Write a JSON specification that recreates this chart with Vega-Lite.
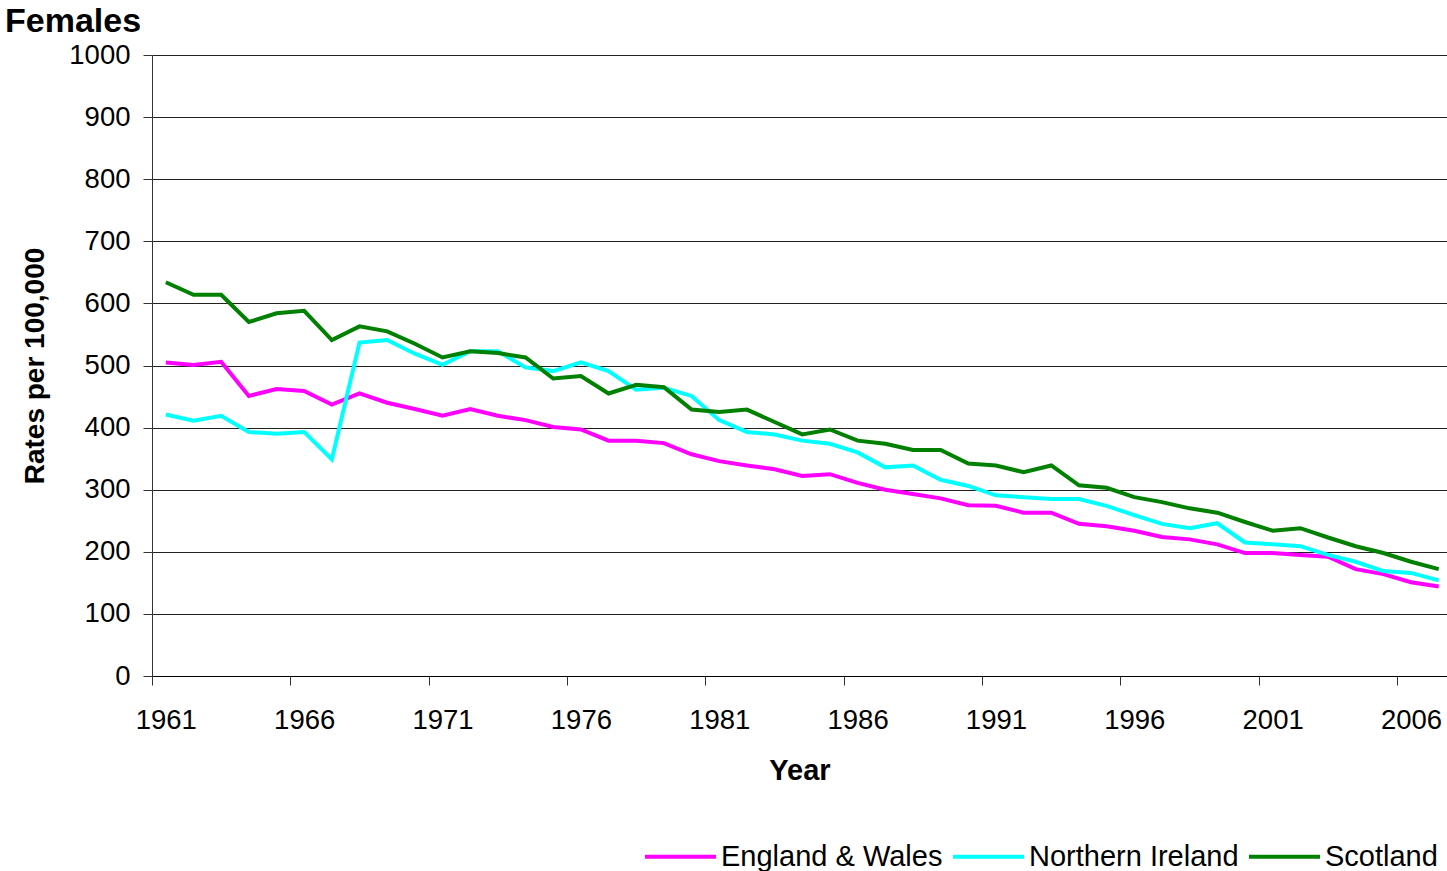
{
  "$schema": "https://vega.github.io/schema/vega-lite/v6.json",
  "width": 1295,
  "height": 621,
  "autosize": {"type": "none"},
  "padding": {"left": 152, "top": 55, "right": 0, "bottom": 195},
  "background": "white",
  "config": {"view": {"stroke": null}, "font": "Liberation Sans"},
  "title": {"text": "Females", "anchor": "start", "frame": "group", "fontSize": 34, "fontWeight": "bold", "font": "Liberation Sans", "color": "black", "dx": -147, "offset": -25, "baseline": "alphabetic"},
  "datasets": {
    "rates": [
      {"year":1961,"country":"England & Wales","rate":505},{"year":1962,"country":"England & Wales","rate":501},{"year":1963,"country":"England & Wales","rate":506},{"year":1964,"country":"England & Wales","rate":451},{"year":1965,"country":"England & Wales","rate":462},{"year":1966,"country":"England & Wales","rate":459},{"year":1967,"country":"England & Wales","rate":437},{"year":1968,"country":"England & Wales","rate":455},{"year":1969,"country":"England & Wales","rate":440},{"year":1970,"country":"England & Wales","rate":430},{"year":1971,"country":"England & Wales","rate":419},{"year":1972,"country":"England & Wales","rate":430},{"year":1973,"country":"England & Wales","rate":419},{"year":1974,"country":"England & Wales","rate":412},{"year":1975,"country":"England & Wales","rate":401},{"year":1976,"country":"England & Wales","rate":397},{"year":1977,"country":"England & Wales","rate":379},{"year":1978,"country":"England & Wales","rate":379},{"year":1979,"country":"England & Wales","rate":375},{"year":1980,"country":"England & Wales","rate":357},{"year":1981,"country":"England & Wales","rate":346},{"year":1982,"country":"England & Wales","rate":339},{"year":1983,"country":"England & Wales","rate":333},{"year":1984,"country":"England & Wales","rate":322},{"year":1985,"country":"England & Wales","rate":325},{"year":1986,"country":"England & Wales","rate":311},{"year":1987,"country":"England & Wales","rate":300},{"year":1988,"country":"England & Wales","rate":293},{"year":1989,"country":"England & Wales","rate":286},{"year":1990,"country":"England & Wales","rate":275},{"year":1991,"country":"England & Wales","rate":274},{"year":1992,"country":"England & Wales","rate":263},{"year":1993,"country":"England & Wales","rate":263},{"year":1994,"country":"England & Wales","rate":245},{"year":1995,"country":"England & Wales","rate":241},{"year":1996,"country":"England & Wales","rate":234},{"year":1997,"country":"England & Wales","rate":224},{"year":1998,"country":"England & Wales","rate":220},{"year":1999,"country":"England & Wales","rate":212},{"year":2000,"country":"England & Wales","rate":198},{"year":2001,"country":"England & Wales","rate":198},{"year":2002,"country":"England & Wales","rate":195},{"year":2003,"country":"England & Wales","rate":192},{"year":2004,"country":"England & Wales","rate":172},{"year":2005,"country":"England & Wales","rate":164},{"year":2006,"country":"England & Wales","rate":151},{"year":2007,"country":"England & Wales","rate":144},
      {"year":1961,"country":"Northern Ireland","rate":421},{"year":1962,"country":"Northern Ireland","rate":411},{"year":1963,"country":"Northern Ireland","rate":419},{"year":1964,"country":"Northern Ireland","rate":393},{"year":1965,"country":"Northern Ireland","rate":390},{"year":1966,"country":"Northern Ireland","rate":393},{"year":1967,"country":"Northern Ireland","rate":349},{"year":1968,"country":"Northern Ireland","rate":537},{"year":1969,"country":"Northern Ireland","rate":541},{"year":1970,"country":"Northern Ireland","rate":519},{"year":1971,"country":"Northern Ireland","rate":501},{"year":1972,"country":"Northern Ireland","rate":523},{"year":1973,"country":"Northern Ireland","rate":523},{"year":1974,"country":"Northern Ireland","rate":497},{"year":1975,"country":"Northern Ireland","rate":491},{"year":1976,"country":"Northern Ireland","rate":505},{"year":1977,"country":"Northern Ireland","rate":491},{"year":1978,"country":"Northern Ireland","rate":461},{"year":1979,"country":"Northern Ireland","rate":464},{"year":1980,"country":"Northern Ireland","rate":451},{"year":1981,"country":"Northern Ireland","rate":412},{"year":1982,"country":"Northern Ireland","rate":393},{"year":1983,"country":"Northern Ireland","rate":389},{"year":1984,"country":"Northern Ireland","rate":379},{"year":1985,"country":"Northern Ireland","rate":374},{"year":1986,"country":"Northern Ireland","rate":360},{"year":1987,"country":"Northern Ireland","rate":336},{"year":1988,"country":"Northern Ireland","rate":339},{"year":1989,"country":"Northern Ireland","rate":316},{"year":1990,"country":"Northern Ireland","rate":306},{"year":1991,"country":"Northern Ireland","rate":291},{"year":1992,"country":"Northern Ireland","rate":288},{"year":1993,"country":"Northern Ireland","rate":285},{"year":1994,"country":"Northern Ireland","rate":285},{"year":1995,"country":"Northern Ireland","rate":274},{"year":1996,"country":"Northern Ireland","rate":259},{"year":1997,"country":"Northern Ireland","rate":245},{"year":1998,"country":"Northern Ireland","rate":238},{"year":1999,"country":"Northern Ireland","rate":246},{"year":2000,"country":"Northern Ireland","rate":215},{"year":2001,"country":"Northern Ireland","rate":212},{"year":2002,"country":"Northern Ireland","rate":209},{"year":2003,"country":"Northern Ireland","rate":195},{"year":2004,"country":"Northern Ireland","rate":184},{"year":2005,"country":"Northern Ireland","rate":169},{"year":2006,"country":"Northern Ireland","rate":166},{"year":2007,"country":"Northern Ireland","rate":154},
      {"year":1961,"country":"Scotland","rate":634},{"year":1962,"country":"Scotland","rate":614},{"year":1963,"country":"Scotland","rate":614},{"year":1964,"country":"Scotland","rate":570},{"year":1965,"country":"Scotland","rate":584},{"year":1966,"country":"Scotland","rate":588},{"year":1967,"country":"Scotland","rate":541},{"year":1968,"country":"Scotland","rate":563},{"year":1969,"country":"Scotland","rate":555},{"year":1970,"country":"Scotland","rate":535},{"year":1971,"country":"Scotland","rate":513},{"year":1972,"country":"Scotland","rate":523},{"year":1973,"country":"Scotland","rate":520},{"year":1974,"country":"Scotland","rate":513},{"year":1975,"country":"Scotland","rate":479},{"year":1976,"country":"Scotland","rate":483},{"year":1977,"country":"Scotland","rate":455},{"year":1978,"country":"Scotland","rate":469},{"year":1979,"country":"Scotland","rate":465},{"year":1980,"country":"Scotland","rate":429},{"year":1981,"country":"Scotland","rate":425},{"year":1982,"country":"Scotland","rate":429},{"year":1983,"country":"Scotland","rate":409},{"year":1984,"country":"Scotland","rate":389},{"year":1985,"country":"Scotland","rate":397},{"year":1986,"country":"Scotland","rate":379},{"year":1987,"country":"Scotland","rate":374},{"year":1988,"country":"Scotland","rate":364},{"year":1989,"country":"Scotland","rate":364},{"year":1990,"country":"Scotland","rate":342},{"year":1991,"country":"Scotland","rate":339},{"year":1992,"country":"Scotland","rate":328},{"year":1993,"country":"Scotland","rate":339},{"year":1994,"country":"Scotland","rate":307},{"year":1995,"country":"Scotland","rate":303},{"year":1996,"country":"Scotland","rate":288},{"year":1997,"country":"Scotland","rate":280},{"year":1998,"country":"Scotland","rate":270},{"year":1999,"country":"Scotland","rate":263},{"year":2000,"country":"Scotland","rate":248},{"year":2001,"country":"Scotland","rate":234},{"year":2002,"country":"Scotland","rate":238},{"year":2003,"country":"Scotland","rate":223},{"year":2004,"country":"Scotland","rate":209},{"year":2005,"country":"Scotland","rate":198},{"year":2006,"country":"Scotland","rate":184},{"year":2007,"country":"Scotland","rate":172}
    ]
  },
  "data": {"name": "rates"},
  "mark": {"type": "line", "strokeWidth": 4, "strokeJoin": "miter"},
  "encoding": {
    "x": {
      "field": "year", "type": "quantitative",
      "scale": {"domain": [1960.5, 2007.3], "nice": false, "zero": false},
      "axis": {
        "values": [1961, 1966, 1971, 1976, 1981, 1986, 1991, 1996, 2001, 2006],
        "format": "d", "title": "Year", "grid": false,
        "tickOffset": -13.84, "labelOffset": 13.84,
        "tickSize": 9, "tickColor": "#333", "domainColor": "#000", "tickWidth": 1, "domainWidth": 1,
        "labelFont": "Liberation Sans", "labelFontSize": 27.5, "labelColor": "black", "labelPadding": 21,
        "titleFont": "Liberation Sans", "titleFontSize": 29, "titleFontWeight": "bold", "titleColor": "black",
        "titleX": 647.5, "titleY": 103, "titleBaseline": "alphabetic", "titleAlign": "center"
      }
    },
    "y": {
      "field": "rate", "type": "quantitative",
      "scale": {"domain": [0, 1000], "nice": false},
      "axis": {
        "values": [0, 100, 200, 300, 400, 500, 600, 700, 800, 900, 1000],
        "format": "d",
        "title": "Rates per 100,000", "grid": true, "gridColor": "#222", "gridWidth": 1,
        "tickSize": 9, "tickColor": "#333", "domainColor": "#333", "domainWidth": 1,
        "labelFont": "Liberation Sans", "labelFontSize": 27.5, "labelColor": "black", "labelPadding": 13,
        "titleFont": "Liberation Sans", "titleFontSize": 28, "titleFontWeight": "bold", "titleColor": "black",
        "titleX": -117, "titleY": 310.5, "titleAngle": -90, "titleAlign": "center", "titleBaseline": "middle"
      }
    },
    "color": {
      "field": "country", "type": "nominal",
      "scale": {"domain": ["England & Wales", "Northern Ireland", "Scotland"], "range": ["#FF00FF", "#00FFFF", "#008000"]},
      "legend": {
        "orient": "none", "legendX": 491, "legendY": 764, "direction": "horizontal", "title": null,
        "symbolType": "stroke", "symbolSize": 5041, "symbolStrokeWidth": 4,
        "labelFont": "Liberation Sans", "labelFontSize": 29, "labelColor": "black", "labelOffset": 3, "labelLimit": 0,
        "columnPadding": 2, "padding": 0
      }
    }
  }
}
